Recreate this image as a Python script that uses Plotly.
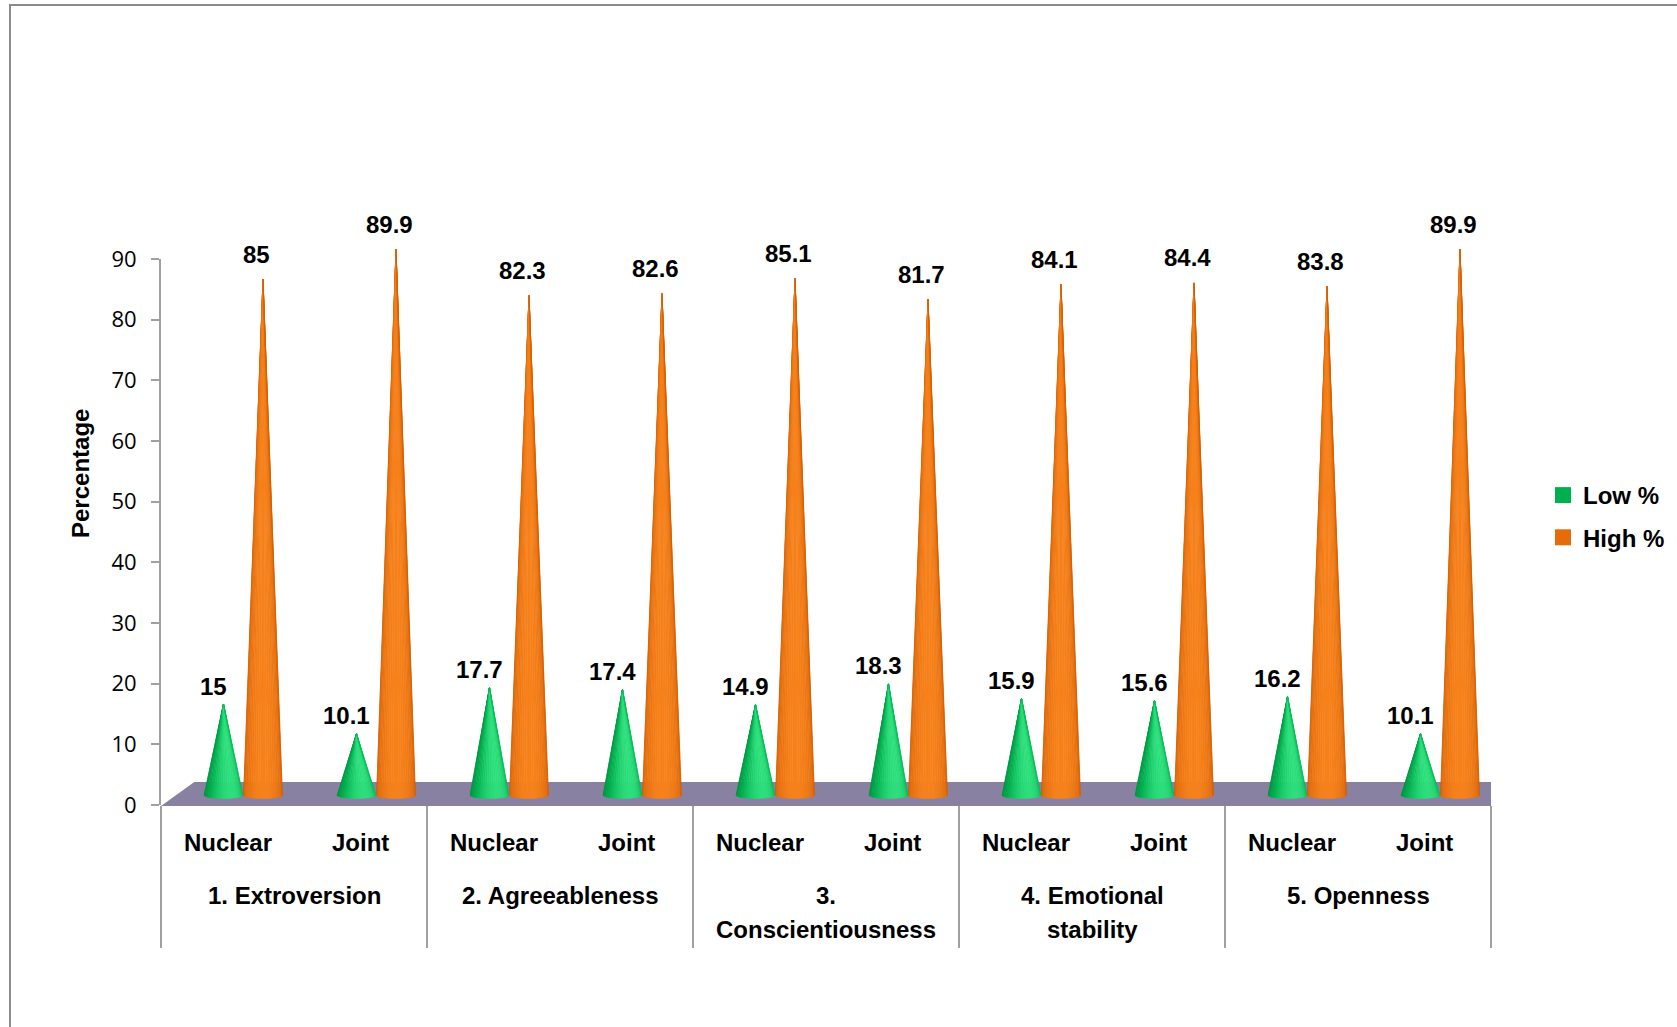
import numpy as np
import plotly.graph_objects as go

# ---- data ----
groups = ["1. Extroversion", "2. Agreeableness", "3.<br>Conscientiousness",
          "4. Emotional<br>stability", "5. Openness"]
family_types = ["Nuclear", "Joint"]
low_pct = [15, 10.1, 17.7, 17.4, 14.9, 18.3, 15.9, 15.6, 16.2, 10.1]
high_pct = [85, 89.9, 82.3, 82.6, 85.1, 81.7, 84.1, 84.4, 83.8, 89.9]
series_names = ["Low %", "High %"]
y_ticks = [0, 10, 20, 30, 40, 50, 60, 70, 80, 90]

# ---- page geometry (pixels) ----
W, H = 1677, 1027
def px_x(p):
    return p / W
def px_y(p):
    return 1 - p / H

X_LEFT, X_RIGHT = 161, 1491          # category axis extent
Y_ZERO, Y_TOP = 805, 259             # value axis: 0 .. 90
PX_PER_UNIT = (Y_ZERO - Y_TOP) / 90.0
CONE_BASE = 795                      # cones stand mid-depth on the floor
Y2_BOT, Y2_TOP = 822, 200

BOLD = "Liberation Sans, Arial, sans-serif"
PLAIN = "Open Sans, DejaVu Sans, sans-serif"
LABEL_SIZE = 24

n_cat = len(low_pct)
cats = np.arange(n_cat)

fig = go.Figure()

# ---- floor (flat 3-D base plate) ----
depth_dx = 0.25
front_y = (CONE_BASE - 806) / PX_PER_UNIT
back_y = (CONE_BASE - 782) / PX_PER_UNIT
fig.add_trace(go.Scatter(
    x=[-0.5, n_cat - 0.5, n_cat - 0.5 + depth_dx + 0.01, -0.5 + depth_dx, -0.5],
    y=[front_y, front_y, back_y, back_y, front_y],
    mode="lines", fill="toself", fillcolor="#8981A1",
    line=dict(width=0, color="#8981A1"),
    xaxis="x", yaxis="y2", hoverinfo="skip", showlegend=False))

# ---- shaded cones ----
N_SLICES = 24
HALF_W = 0.147
ELL = 3.5 / PX_PER_UNIT

def hex2rgb(h):
    h = h.lstrip("#")
    return np.array([int(h[i:i + 2], 16) for i in (0, 2, 4)], dtype=float)

def shade(stops, t):
    # piecewise-linear blend across dark -> mid -> light
    cols = [hex2rgb(s) for s in stops]
    seg = min(int(t * (len(cols) - 1)), len(cols) - 2)
    f = t * (len(cols) - 1) - seg
    c = cols[seg] + (cols[seg + 1] - cols[seg]) * f
    return "rgb(%d,%d,%d)" % tuple(np.clip(c, 0, 255).round())

series_style = [
    dict(values=low_pct, offset=-0.03,
         stops=["#00863A", "#00B14F", "#2DE07C"], light_dir=0.45),
    dict(values=high_pct, offset=0.267,
         stops=["#A64300", "#E46C0A", "#F7821C"], light_dir=0.05),
]

theta = np.linspace(-np.pi / 2, np.pi / 2, N_SLICES + 1)
for st in series_style:
    centers = cats + st["offset"]
    for k in range(N_SLICES):
        tm = 0.5 * (theta[k] + theta[k + 1])
        t = (0.5 + 0.5 * np.cos(tm - st["light_dir"])) ** 1.8
        col = shade(st["stops"], t)
        xs, ys = [], []
        for cx, v in zip(centers, st["values"]):
            xa = cx + HALF_W * np.sin(theta[k])
            xb = cx + HALF_W * np.sin(theta[k + 1])
            ya = -ELL * np.cos(theta[k])
            yb = -ELL * np.cos(theta[k + 1])
            xs += [cx, xa, xb, cx, None]
            ys += [v, ya, yb, v, None]
        fig.add_trace(go.Scatter(
            x=xs, y=ys, mode="lines", fill="toself", fillcolor=col,
            line=dict(width=0.6, color=col),
            xaxis="x", yaxis="y2", hoverinfo="skip", showlegend=False))

# ---- legend entries ----
for name, col in zip(series_names, ["#00B050", "#E46C0A"]):
    fig.add_trace(go.Scatter(
        x=[None], y=[None], mode="markers", name=name, legendgroup=name,
        marker=dict(symbol="square", size=16, color=col, line=dict(width=0)),
        xaxis="x", yaxis="y"))

# ---- data labels ----
annotations = []
for st, dy, dx in [(series_style[0], 18, -10), (series_style[1], 25, -7)]:
    for cx, v in zip(cats + st["offset"], st["values"]):
        annotations.append(dict(
            x=cx, y=v, xref="x", yref="y2", text="<b>%g</b>" % v,
            showarrow=False, yshift=dy, xshift=dx, yanchor="middle",
            font=dict(family=BOLD, size=LABEL_SIZE, color="black")))

# ---- category labels ----
for i in cats:
    annotations.append(dict(
        x=i, y=px_y(842), xref="x", yref="paper",
        text="<b>%s</b>" % family_types[i % 2], showarrow=False,
        yanchor="middle", font=dict(family=BOLD, size=LABEL_SIZE, color="black")))
for g, name in enumerate(groups):
    for j, line in enumerate(name.split("<br>")):
        annotations.append(dict(
            x=2 * g + 0.5, y=px_y(895 + 34 * j), xref="x", yref="paper",
            text="<b>%s</b>" % line, showarrow=False, xanchor="center",
            yanchor="middle", font=dict(family=BOLD, size=LABEL_SIZE, color="black")))

# ---- value-axis title ----
annotations.append(dict(
    x=px_x(80), y=px_y(474), xref="paper", yref="paper",
    text="<b>Percentage</b>", textangle=-90, showarrow=False,
    xanchor="center", yanchor="middle",
    font=dict(family=BOLD, size=LABEL_SIZE, color="black")))

fig.update_layout(
    width=W, height=H,
    margin=dict(l=0, r=0, t=0, b=0, autoexpand=False),
    paper_bgcolor="white", plot_bgcolor="rgba(0,0,0,0)",
    showlegend=True,
    legend=dict(x=px_x(1543), y=px_y(473), xanchor="left", yanchor="top",
                font=dict(family=BOLD, size=LABEL_SIZE, color="black", weight=700),
                tracegroupgap=8, bgcolor="rgba(0,0,0,0)"),
    xaxis=dict(domain=[px_x(X_LEFT), px_x(X_RIGHT)], range=[-0.5, n_cat - 0.5],
               anchor="y", automargin=False, showgrid=False, zeroline=False,
               showline=False, tickmode="array",
               tickvals=[2 * g - 0.5 for g in range(len(groups) + 1)],
               ticks="outside", ticklen=142, tickwidth=2, tickcolor="#A0A0A0",
               showticklabels=False, fixedrange=True),
    yaxis=dict(domain=[px_y(Y_ZERO), px_y(Y_TOP)], range=[0, 90], anchor="x",
               automargin=False, tickmode="array", tickvals=y_ticks,
               ticktext=[str(t) for t in y_ticks],
               ticks="outside", ticklen=8, tickwidth=2, tickcolor="#A0A0A0",
               showline=True, linecolor="#A0A0A0", linewidth=2,
               showgrid=False, zeroline=False, ticklabelstandoff=10,
               tickfont=dict(family=PLAIN, size=22, color="black"), fixedrange=True),
    yaxis2=dict(domain=[px_y(Y2_BOT), px_y(Y2_TOP)],
                range=[-(Y2_BOT - CONE_BASE) / PX_PER_UNIT, (CONE_BASE - Y2_TOP) / PX_PER_UNIT],
                anchor="x", automargin=False, visible=False, showgrid=False,
                zeroline=False, fixedrange=True),
    annotations=annotations,
    shapes=[dict(type="rect", xref="paper", yref="paper",
                 x0=px_x(10), y0=px_y(5), x1=1.05, y1=-0.05,
                 line=dict(color="#8C8C8C", width=2), fillcolor="rgba(0,0,0,0)")],
)

fig.write_html("out.html")
